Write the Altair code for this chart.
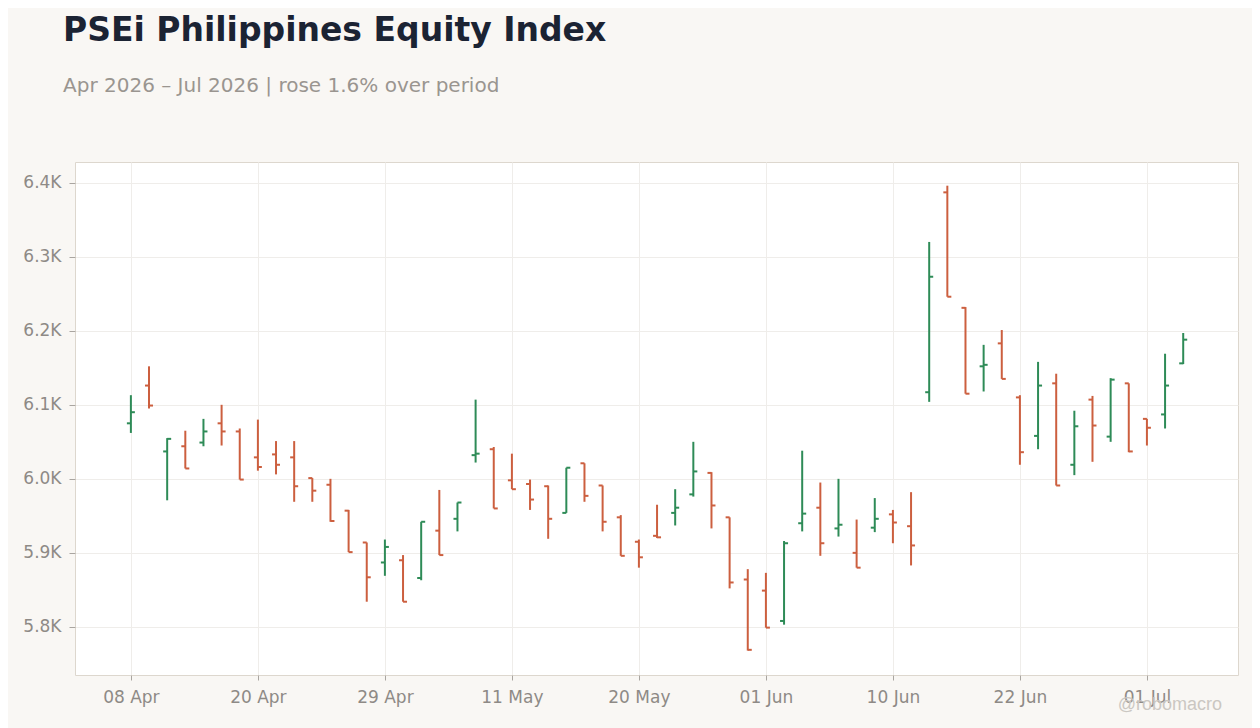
import altair as alt
import pandas as pd

dates = [
    "2026-04-08", "2026-04-10", "2026-04-13", "2026-04-14", "2026-04-15", "2026-04-16",
    "2026-04-17", "2026-04-20", "2026-04-21", "2026-04-22", "2026-04-23", "2026-04-24",
    "2026-04-27", "2026-04-28", "2026-04-29", "2026-04-30", "2026-05-04", "2026-05-05",
    "2026-05-06", "2026-05-07", "2026-05-08", "2026-05-11", "2026-05-12", "2026-05-13",
    "2026-05-14", "2026-05-15", "2026-05-18", "2026-05-19", "2026-05-20", "2026-05-21",
    "2026-05-22", "2026-05-25", "2026-05-26", "2026-05-28", "2026-05-29", "2026-06-01",
    "2026-06-02", "2026-06-03", "2026-06-04", "2026-06-05", "2026-06-08", "2026-06-09",
    "2026-06-10", "2026-06-11", "2026-06-15", "2026-06-16", "2026-06-17", "2026-06-18",
    "2026-06-19", "2026-06-22", "2026-06-23", "2026-06-24", "2026-06-25", "2026-06-26",
    "2026-06-29", "2026-06-30", "2026-07-01", "2026-07-02", "2026-07-03",
]

open_ = [
    6075, 6126, 6037, 6044, 6049, 6075, 6064, 6029, 6033, 6029,
    6001, 5992, 5957, 5914, 5887, 5890, 5866, 5930, 5946, 6032,
    6040, 5998, 5993, 5990, 5954, 6021, 5991, 5948, 5915, 5923,
    5954, 5979, 6008, 5948, 5864, 5849, 5808, 5940, 5961, 5933,
    5900, 5934, 5952, 5936, 6117, 6387, 6231, 6152, 6183, 6110,
    6058, 6129, 6019, 6107, 6057, 6129, 6081, 6087, 6156,
]
high = [
    6113, 6152, 6055, 6065, 6081, 6100, 6068, 6080, 6051, 6051,
    6001, 6000, 5958, 5914, 5918, 5897, 5942, 5985, 5968, 6107,
    6043, 6034, 5999, 5991, 6015, 6021, 5991, 5951, 5918, 5965,
    5986, 6050, 6009, 5948, 5878, 5873, 5916, 6038, 5995, 6000,
    5945, 5974, 5958, 5982, 6320, 6396, 6232, 6181, 6201, 6113,
    6158, 6142, 6092, 6112, 6136, 6129, 6081, 6169, 6197,
]
low = [
    6062, 6095, 5971, 6014, 6044, 6045, 5999, 6011, 6006, 5969,
    5969, 5942, 5901, 5834, 5869, 5834, 5863, 5897, 5929, 6022,
    5960, 5986, 5958, 5919, 5954, 5969, 5929, 5896, 5880, 5920,
    5937, 5976, 5933, 5852, 5768, 5799, 5803, 5929, 5896, 5922,
    5880, 5928, 5913, 5883, 6104, 6246, 6115, 6118, 6135, 6019,
    6040, 5991, 6005, 6023, 6050, 6036, 6045, 6068, 6155,
]
close = [
    6090, 6099, 6054, 6014, 6064, 6064, 5999, 6016, 6019, 5990,
    5984, 5943, 5901, 5867, 5908, 5834, 5942, 5897, 5968, 6034,
    5960, 5986, 5972, 5946, 6015, 5977, 5942, 5896, 5894, 5921,
    5961, 6010, 5964, 5860, 5769, 5799, 5913, 5953, 5913, 5938,
    5880, 5946, 5941, 5910, 6273, 6246, 6115, 6154, 6135, 6036,
    6126, 5991, 6071, 6072, 6134, 6037, 6069, 6126, 6188,
]

tick_index = [0, 7, 14, 21, 28, 35, 42, 49, 56]
y_ticks = [5800, 5900, 6000, 6100, 6200, 6300, 6400]

UP = "#2e8b57"
DOWN = "#cc5f3f"

df = pd.DataFrame({
    "i": list(range(len(dates))),
    "date": pd.to_datetime(dates),
    "open": open_, "high": high, "low": low, "close": close,
})
df["dir"] = ["up" if c >= o else "down" for o, c in zip(open_, close)]
day_labels = [d.strftime("%d %b") for d in df["date"]]

label_js = "[" + ",".join("'%s'" % s for s in day_labels) + "]"

x_enc = alt.X(
    "i:Q",
    scale=alt.Scale(domain=[-3.08, 61.02], nice=False, zero=False),
    axis=alt.Axis(
        values=tick_index, labelExpr=label_js + "[datum.value]", title=None,
        grid=True, tickSize=5, labelPadding=9, domain=False,
    ),
)
y_enc = alt.Y(
    "low:Q",
    scale=alt.Scale(domain=[5735, 6428], nice=False, zero=False),
    axis=alt.Axis(
        values=y_ticks, labelExpr="format(datum.value/1000, '.1f') + 'K'",
        title=None, grid=True, tickSize=6, labelPadding=8, domain=False,
    ),
)
color_enc = alt.Color(
    "dir:N", scale=alt.Scale(domain=["up", "down"], range=[UP, DOWN]), legend=None
)

base = alt.Chart(df)

wick = base.mark_rule(strokeWidth=2, strokeCap="butt").encode(
    x=x_enc, y=y_enc, y2="high:Q", color=color_enc
)
open_tick = base.mark_rule(strokeWidth=2, strokeCap="butt", xOffset=-4).encode(
    x="i:Q", x2="i:Q", y="open:Q", color=color_enc
)
close_tick = base.mark_rule(strokeWidth=2, strokeCap="butt", x2Offset=4).encode(
    x="i:Q", x2="i:Q", y="close:Q", color=color_enc
)

wm = alt.Chart(pd.DataFrame({"t": ["@robomacro"]})).mark_text(
    align="right", baseline="middle", fontSize=18, color="#cbc7c2"
).encode(x=alt.value(1147), y=alt.value(543), text="t:N")

chart = alt.layer(wick, open_tick, close_tick, wm).properties(
    width=1163,
    height=513,
    autosize=alt.AutoSizeParams(type="none"),
    padding={"left": 67, "top": 154, "right": 14, "bottom": 58},
    background="#f9f7f4",
    title=alt.TitleParams(
        text="PSEi Philippines Equity Index",
        subtitle="Apr 2026 – Jul 2026 | rose 1.6% over period",
        anchor="start", frame="group", dx=-12, offset=66,
        fontSize=33, fontWeight="bold", color="#1b2333",
        subtitleFontSize=20, subtitleColor="#9a9590", subtitlePadding=28,
        font="DejaVu Sans", subtitleFont="DejaVu Sans",
    ),
).configure_view(
    fill="white", stroke="#ddd7ce", strokeWidth=1
).configure_axis(
    labelFont="DejaVu Sans", labelFontSize=17, labelColor="#8e8a86",
    gridColor="#efedea", tickColor="#a9a5a0",
)

chart.save("out.html", embed_options={"renderer": "svg", "actions": False})
